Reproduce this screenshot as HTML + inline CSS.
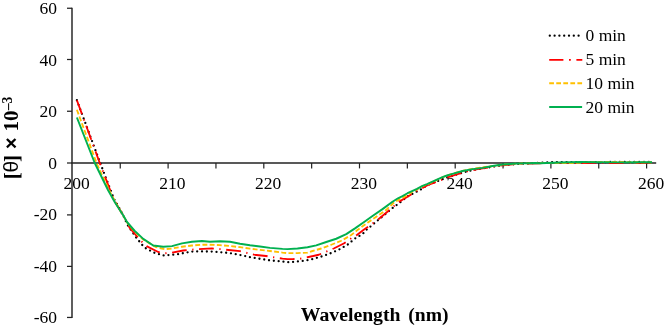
<!DOCTYPE html>
<html><head><meta charset="utf-8"><title>CD spectra</title>
<style>
html,body{margin:0;padding:0;background:#fff;}
body{width:666px;height:328px;overflow:hidden;}
svg{display:block;will-change:transform;}
text{font-family:"Liberation Serif",serif;fill:#000;}
.ax{font-size:17.5px;}
.lg{font-size:17.5px;}
.tt{font-size:19.95px;font-weight:bold;}
</style></head><body>
<svg width="666" height="328" viewBox="0 0 666 328">
<rect width="666" height="328" fill="#fff"/>
<g class="ax" text-anchor="end">
<text x="57.0" y="13.85">60</text>
<text x="57.0" y="65.55">40</text>
<text x="57.0" y="116.85">20</text>
<text x="57.0" y="168.50">0</text>
<text x="57.0" y="220.30">-20</text>
<text x="57.0" y="272.00">-40</text>
<text x="57.0" y="323.30">-60</text>
</g>
<g class="ax" text-anchor="middle">
<text x="76.60" y="189.0">200</text>
<text x="172.37" y="189.0">210</text>
<text x="268.14" y="189.0">220</text>
<text x="363.91" y="189.0">230</text>
<text x="459.68" y="189.0">240</text>
<text x="555.45" y="189.0">250</text>
<text x="651.22" y="189.0">260</text>
</g>
<g stroke="#222" fill="none">
<line x1="72.0" y1="7.65" x2="72.0" y2="318.05" stroke-width="1.45"/>
<line x1="71.3" y1="163.0" x2="656.2" y2="163.0" stroke-width="1.4"/>
<line x1="67" y1="8.25" x2="72.0" y2="8.25" stroke-width="1.25"/>
<line x1="67" y1="59.5" x2="72.0" y2="59.5" stroke-width="1.25"/>
<line x1="67" y1="111.25" x2="72.0" y2="111.25" stroke-width="1.25"/>
<line x1="67" y1="163.0" x2="72.0" y2="163.0" stroke-width="1.25"/>
<line x1="67" y1="214.9" x2="72.0" y2="214.9" stroke-width="1.25"/>
<line x1="67" y1="266.4" x2="72.0" y2="266.4" stroke-width="1.25"/>
<line x1="67" y1="317.45" x2="72.0" y2="317.45" stroke-width="1.25"/>
<line x1="120.25" y1="163.0" x2="120.25" y2="168.4" stroke-width="1.2"/>
<line x1="168.10" y1="163.0" x2="168.10" y2="168.4" stroke-width="1.2"/>
<line x1="215.95" y1="163.0" x2="215.95" y2="168.4" stroke-width="1.2"/>
<line x1="263.80" y1="163.0" x2="263.80" y2="168.4" stroke-width="1.2"/>
<line x1="311.65" y1="163.0" x2="311.65" y2="168.4" stroke-width="1.2"/>
<line x1="359.50" y1="163.0" x2="359.50" y2="168.4" stroke-width="1.2"/>
<line x1="407.35" y1="163.0" x2="407.35" y2="168.4" stroke-width="1.2"/>
<line x1="455.20" y1="163.0" x2="455.20" y2="168.4" stroke-width="1.2"/>
<line x1="503.05" y1="163.0" x2="503.05" y2="168.4" stroke-width="1.2"/>
<line x1="550.90" y1="163.0" x2="550.90" y2="168.4" stroke-width="1.2"/>
<line x1="598.75" y1="163.0" x2="598.75" y2="168.4" stroke-width="1.2"/>
<line x1="646.60" y1="163.0" x2="646.60" y2="168.4" stroke-width="1.2"/>
</g>
<g fill="none" stroke-linejoin="round">
<polyline points="76.90,100.25 100.20,163.00 114.00,199.00 118.00,206.00 124.00,217.00 127.60,225.00 135.75,237.00 142.00,244.75 145.75,248.25 153.90,252.60 163.25,255.50 168.25,255.10 177.60,254.25 187.00,252.44 192.00,251.54 202.00,251.40 212.00,251.60 220.00,252.20 230.00,253.10 240.00,254.95 250.00,257.20 260.00,258.85 270.00,260.40 282.50,261.50 287.50,262.25 292.50,262.00 302.50,261.00 311.25,259.50 321.25,256.60 330.00,253.50 338.75,249.75 347.50,244.75 355.00,238.50 362.50,234.10 366.25,230.00 370.00,226.90 377.50,220.60 385.00,214.40 391.90,208.50 400.00,202.50 407.50,196.50 416.25,191.90 420.00,190.00 427.50,185.00 437.50,181.20 447.50,177.40 457.50,174.20 467.50,171.30 477.50,169.10 488.00,167.50 497.00,166.00 507.00,164.78 517.00,164.00 527.00,163.54 540.00,162.81 548.00,162.35 560.00,162.04 575.00,162.05 600.00,162.10 625.00,161.90 640.00,161.80 652.00,162.00" stroke="#000" stroke-width="2.3" stroke-linecap="round" stroke-dasharray="0 4.838" stroke-dashoffset="0"/>
<polyline points="76.90,100.25 99.75,163.00 113.50,199.00 117.00,205.00 124.00,216.50 129.50,227.60 140.75,240.75 147.00,246.40 158.25,252.00 165.00,253.25 172.00,252.60 183.25,250.50 192.00,249.64 203.25,248.90 212.00,248.45 220.00,249.10 226.00,249.70 240.00,251.20 246.00,252.70 254.00,254.70 266.00,256.00 273.00,257.25 282.50,258.60 287.50,259.10 292.50,259.10 300.00,258.75 307.50,257.25 318.75,254.75 326.25,251.60 333.75,248.50 343.75,243.50 350.00,239.10 356.25,235.40 363.75,229.75 377.50,220.00 388.00,211.25 398.75,201.90 410.00,195.25 416.25,191.31 427.50,185.25 437.50,181.50 447.50,177.38 457.50,174.10 467.50,171.25 477.50,169.10 488.00,167.50 497.00,166.00 507.00,164.78 517.00,164.00 527.00,163.64 540.00,163.21 552.00,163.08 565.00,163.15 585.00,163.00 600.00,162.60 612.00,163.10 620.00,163.00 628.00,162.50 638.00,163.00 645.00,162.90 652.00,162.40" stroke="#ff0000" stroke-width="1.85" stroke-dasharray="14.8 5.55 1.3 5.55" stroke-dashoffset="0"/>
<polyline points="76.90,109.75 96.50,163.00 109.00,190.00 115.50,202.50 123.00,215.00 127.00,222.50 134.50,231.50 143.25,239.50 155.75,247.00 164.50,249.25 172.00,248.50 182.00,246.75 192.00,245.54 203.25,244.70 210.00,244.70 220.00,245.20 230.00,245.95 240.00,247.20 250.00,248.70 260.00,249.85 270.00,251.00 282.50,252.60 287.50,253.10 297.50,253.10 307.50,252.60 312.50,251.00 321.25,248.50 331.25,244.75 341.25,240.75 351.25,235.00 357.50,230.00 367.50,222.75 377.50,216.00 386.25,209.88 393.75,202.84 398.00,200.11 405.00,196.52 413.75,190.90 417.00,189.34 422.50,186.26 427.00,184.40 432.50,181.93 437.50,179.64 442.50,177.25 447.00,175.49 452.50,173.70 462.50,170.80 472.50,168.80 482.50,167.40 492.50,166.10 502.50,164.66 512.50,163.81 522.50,163.40 535.00,163.03 540.00,163.01 552.00,162.88 560.00,163.14 575.00,162.95 590.00,162.00 603.00,161.80 618.00,161.80 630.00,162.20 652.00,162.20" stroke="#ffc000" stroke-width="1.85" stroke-dasharray="4.88 2.33"/>
<polyline points="76.90,117.50 94.75,163.00 108.00,190.00 115.00,202.50 123.00,215.00 127.00,222.00 134.50,230.75 143.25,238.90 153.25,245.50 163.25,246.80 172.00,246.15 182.00,243.37 192.00,241.74 202.00,240.95 210.00,241.80 220.00,241.20 230.00,241.80 240.00,243.70 250.00,245.30 260.00,246.50 270.00,247.90 282.50,248.90 287.50,249.10 297.50,248.50 307.50,247.25 316.25,245.40 326.25,242.00 336.25,238.75 346.25,234.10 355.00,228.40 363.75,222.20 372.50,216.00 382.50,209.15 392.50,201.71 398.00,198.29 402.50,196.08 407.50,193.23 413.75,190.30 417.00,188.81 422.50,185.86 427.00,184.06 432.50,181.68 437.50,179.41 442.50,177.10 447.00,175.50 452.50,173.85 462.50,171.00 472.50,169.10 482.50,167.85 492.50,166.05 502.50,164.56 512.50,163.81 522.50,163.40 535.00,163.03 540.00,163.16 560.00,162.59 580.00,161.95 598.00,162.15 620.00,162.35 640.00,162.25 652.00,162.25" stroke="#00b050" stroke-width="1.95"/>
</g>
<g fill="none">
<line x1="549.8" y1="35.7" x2="580" y2="35.7" stroke="#000" stroke-width="2.3" stroke-linecap="round" stroke-dasharray="0 4.8"/>
<line x1="549.2" y1="59.8" x2="582.3" y2="59.8" stroke="#ff0000" stroke-width="1.8" stroke-dasharray="14.2 5.6 1.8 5.6"/>
<line x1="549.2" y1="83.2" x2="582.1" y2="83.2" stroke="#ffc000" stroke-width="1.9" stroke-dasharray="4.75 2.3"/>
<line x1="549.2" y1="107" x2="582.1" y2="107" stroke="#00b050" stroke-width="1.9"/>
</g>
<g class="lg">
<text x="585.5" y="41.4">0 min</text>
<text x="585.5" y="65.3">5 min</text>
<text x="585.5" y="89.2">10 min</text>
<text x="585.5" y="113">20 min</text>
</g>
<text class="tt" x="300.8" y="321.3" style="font-size:19.73px">Wavelength</text>
<text class="tt" x="448.5" y="321.3" text-anchor="end" style="font-size:19.6px">(nm)</text>
<text transform="translate(18.6,179.2) rotate(-90)" font-family="Liberation Serif" font-size="21px" font-weight="bold" text-anchor="start" style="font-family:'Liberation Serif'">[</text>
<text transform="translate(18.1,172.6) rotate(-90)" font-family="Liberation Sans" font-size="21px" font-weight="normal" text-anchor="start" style="font-family:'Liberation Sans'">θ</text>
<text transform="translate(18.6,162.0) rotate(-90)" font-family="Liberation Serif" font-size="21px" font-weight="bold" text-anchor="start" style="font-family:'Liberation Serif'">]</text>
<text transform="translate(18.1,149.0) rotate(-90)" font-family="Liberation Sans" font-size="20px" font-weight="bold" text-anchor="start" style="font-family:'Liberation Sans'">×</text>
<text transform="translate(18.1,131.4) rotate(-90)" font-family="Liberation Serif" font-size="21px" font-weight="bold" text-anchor="start" style="font-family:'Liberation Serif'">10</text>
<text transform="translate(11.8,110.3) rotate(-90)" font-family="Liberation Serif" font-size="13.6px" font-weight="bold" text-anchor="start" style="font-family:'Liberation Serif'">–3</text>
</svg>
</body></html>
